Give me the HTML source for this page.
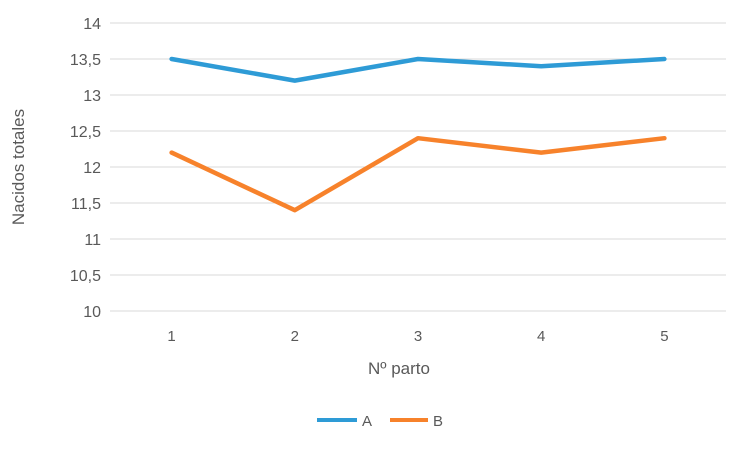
<!DOCTYPE html>
<html><head><meta charset="utf-8"><style>
body{margin:0;background:#fff;}
svg text{font-family:"Liberation Sans",sans-serif;fill:#595959;}
</style></head><body>
<svg id="chart" width="752" height="452" xmlns="http://www.w3.org/2000/svg">
<g id="grid"></g><g id="series"></g>
<text transform="translate(24,167) rotate(-90)" text-anchor="middle" font-size="17">Nacidos totales</text>
<text x="399" y="374" text-anchor="middle" font-size="17">Nº parto</text>
<g>
<line x1="317" y1="420" x2="357" y2="420" stroke="#2e9bd6" stroke-width="4"/>
<text x="362" y="426" font-size="15">A</text>
<line x1="390" y1="420" x2="428" y2="420" stroke="#f7822b" stroke-width="4"/>
<text x="433" y="426" font-size="15">B</text>
</g>
</svg>
<script>
const categories=["1","2","3","4","5"];
const seriesA=[13.5,13.2,13.5,13.4,13.5];
const seriesB=[12.2,11.4,12.4,12.2,12.4];
const yTicks=[10,10.5,11,11.5,12,12.5,13,13.5,14];
const yTickLabels=["10","10,5","11","11,5","12","12,5","13","13,5","14"];
const NS="http://www.w3.org/2000/svg";
const x0=110,x1=726,yMin=10,yMax=14,yTop=23,yBot=311;
const step=(x1-x0)/categories.length;
const xs=i=>x0+step*(i+0.5);
const ys=v=>yBot-(v-yMin)/(yMax-yMin)*(yBot-yTop);
const grid=document.getElementById('grid'),ser=document.getElementById('series');
yTicks.forEach((t,i)=>{
 const l=document.createElementNS(NS,'line');
 
 
 l.setAttribute('x1',x0);l.setAttribute('x2',x1);l.setAttribute('y1',ys(t));l.setAttribute('y2',ys(t));
 l.setAttribute('stroke','#d9d9d9');l.setAttribute('stroke-width','1');
 grid.appendChild(l);
 const tx=document.createElementNS(NS,'text');
 
 
 tx.setAttribute('x',101);tx.setAttribute('y',ys(t)+6);tx.setAttribute('text-anchor','end');tx.setAttribute('font-size','16');
 tx.textContent=yTickLabels[i];grid.appendChild(tx);
});
categories.forEach((c,i)=>{
 const tx=document.createElementNS(NS,'text');
 
 
 tx.setAttribute('x',xs(i));tx.setAttribute('y',341);tx.setAttribute('text-anchor','middle');tx.setAttribute('font-size','15');
 tx.textContent=c;grid.appendChild(tx);
});
function line(data,color,name){
 const p=document.createElementNS(NS,'polyline');
 
 
 p.setAttribute('points',data.map((v,i)=>xs(i)+','+ys(v)).join(' '));
 p.setAttribute('fill','none');p.setAttribute('stroke',color);p.setAttribute('stroke-width','4.5');p.setAttribute('stroke-linejoin','round');p.setAttribute('stroke-linecap','round');
 ser.appendChild(p);
}
line(seriesA,'#2e9bd6','series-a-line');
line(seriesB,'#f7822b','series-b-line');
</script>
</body></html>
